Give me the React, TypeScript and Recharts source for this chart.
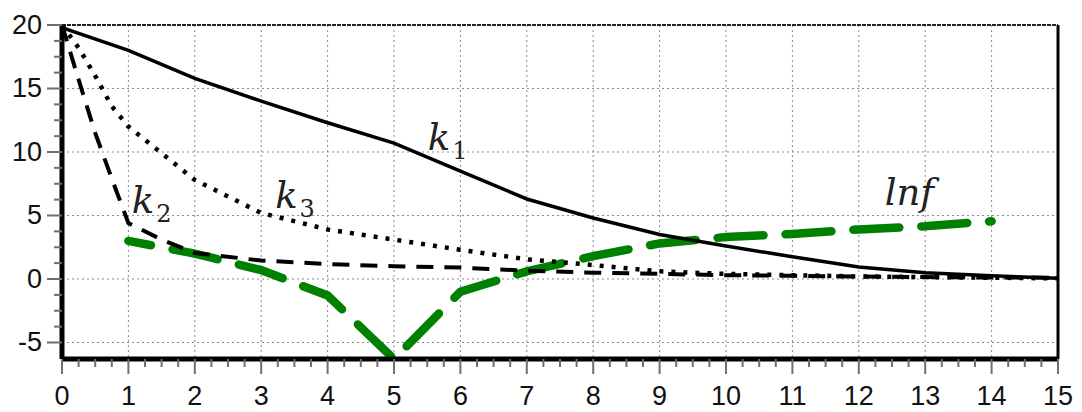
import React from 'react';
import { LineChart, Line, XAxis, YAxis, CartesianGrid, ReferenceLine, ReferenceDot } from 'recharts';

const xMajor = [0, 1, 2, 3, 4, 5, 6, 7, 8, 9, 10, 11, 12, 13, 14, 15];
const yMajor = [-5, 0, 5, 10, 15, 20];
const xMinorSteps = [0.25, 0.5, 0.75];
const yMinorSteps = [1.25, 2.5, 3.75];

const k1X = [0, 1, 2, 3, 4, 5, 6, 7, 8, 9, 10, 11, 12, 13, 14, 15];
const k1Y = [19.8, 18.0, 15.8, 14.0, 12.3, 10.7, 8.5, 6.3, 4.8, 3.5, 2.6, 1.75, 0.95, 0.5, 0.25, 0.05];

const k2X = [0, 0.25, 0.5, 0.75, 1, 1.5, 2, 3, 4, 5, 6, 7, 8, 9, 10, 11, 12, 13, 14, 15];
const k2Y = [20, 15.7, 11.5, 7.9, 4.4, 3.1, 2.05, 1.45, 1.18, 1.0, 0.9, 0.65, 0.5, 0.4, 0.3, 0.25, 0.2, 0.15, 0.12, 0.1];

const k3X = [0, 0.25, 0.5, 0.75, 1, 2, 3, 4, 5, 6, 7, 8, 9, 10, 11, 12, 13, 14, 15];
const k3Y = [20, 18.2, 16.0, 13.6, 12.0, 7.8, 5.2, 3.9, 3.1, 2.3, 1.55, 1.1, 0.6, 0.4, 0.3, 0.2, 0.15, 0.1, 0.05];

const lnfX = [1, 2, 3, 4, 5, 6, 7, 8, 9, 10, 11, 12, 13, 14];
const lnfY = [3.0, 2.0, 0.7, -1.3, -6.3, -1.0, 0.6, 1.8, 2.8, 3.3, 3.55, 3.9, 4.15, 4.55];

const labelNames = ['k', 'k', 'k', 'lnf'];
const labelSubs = ['1', '2', '3', ''];
const labelX = [5.51, 1.05, 3.21, 12.39];
const labelY = [10.16, 5.2, 5.6, 5.83];

const xTicks = xMajor.flatMap((v, i) => (i < xMajor.length - 1 ? [v, ...xMinorSteps.map((s) => v + s)] : [v]));
const yTicks = yMajor.flatMap((v, i) => (i < yMajor.length - 1 ? [v, ...yMinorSteps.map((s) => v + s)] : [v]));

const toData = (xs: number[], ys: number[]) => xs.map((x, i) => ({ x, y: ys[i] }));
const k1Data = toData(k1X, k1Y);
const k2Data = toData(k2X, k2Y);
const k3Data = toData(k3X, k3Y);
const lnfData = toData(lnfX, lnfY);

const tickFont = '"Liberation Sans", Arial, sans-serif';

const XTick = (props: any) => {
  const { x, y, payload } = props;
  const v = payload.value;
  const major = xMajor.includes(v);
  return (
    <g>
      <line x1={x} x2={x} y1={y} y2={y + (major ? 15 : 8)} stroke="#6f6f6f" strokeWidth={2} />
      {major && (
        <text x={x} y={y + 46} textAnchor="middle" fontFamily={tickFont} fontSize={27} fill="#111">
          {v}
        </text>
      )}
    </g>
  );
};

const YTick = (props: any) => {
  const { x, y, payload } = props;
  const v = payload.value;
  const major = yMajor.includes(v);
  return (
    <g>
      <line x1={x} x2={x - (major ? 15 : 8)} y1={y} y2={y} stroke="#6f6f6f" strokeWidth={2} />
      {major && (
        <text x={x - 20} y={y + 9} textAnchor="end" fontFamily={tickFont} fontSize={27} fill="#111">
          {v}
        </text>
      )}
    </g>
  );
};

const makeLabel = (main: string, sub: string) => (props: any) => {
  const vb = props.viewBox || {};
  return (
    <text x={vb.x} y={vb.y} fontFamily='"DejaVu Serif", serif' fontStyle="italic" fontSize={37} fill="#222">
      {main}
      {sub && (
        <tspan fontSize={24} fontStyle="normal" dx={2} dy={9}>
          {sub}
        </tspan>
      )}
    </text>
  );
};

export default function App() {
  return (
    <LineChart width={1074} height={404} margin={{ top: 17, right: 24, left: 0, bottom: 0 }}>
      <CartesianGrid
        stroke="#8a8a8a"
        strokeDasharray="2 3"
        verticalValues={xMajor}
        horizontalValues={yMajor}
      />
      <XAxis
        dataKey="x"
        type="number"
        domain={[0, 15]}
        ticks={xTicks}
        interval={0}
        tickLine={false}
        tickSize={0}
        tickMargin={0}
        height={53}
        axisLine={{ stroke: '#000', strokeWidth: 5 }}
        tick={<XTick />}
        allowDataOverflow
      />
      <YAxis
        type="number"
        domain={[-6.3, 20]}
        ticks={yTicks}
        interval={0}
        tickLine={false}
        tickSize={0}
        tickMargin={0}
        width={54}
        axisLine={{ stroke: '#000', strokeWidth: 5 }}
        tick={<YTick />}
        allowDataOverflow
      />
      <ReferenceLine y={20} stroke="#222" strokeWidth={2} strokeDasharray="4 1" />
      <ReferenceLine x={15} stroke="#000" strokeWidth={3} />
      <Line
        data={lnfData}
        dataKey="y"
        type="linear"
        stroke="#008000"
        strokeWidth={8.5}
        strokeDasharray="46 22"
        strokeDashoffset={23}
        strokeLinecap="round"
        dot={false}
        activeDot={false}
        isAnimationActive={false}
      />
      <Line
        data={k3Data}
        dataKey="y"
        type="linear"
        stroke="#000"
        strokeWidth={4.5}
        strokeDasharray="4 8"
        dot={false}
        activeDot={false}
        isAnimationActive={false}
      />
      <Line
        data={k2Data}
        dataKey="y"
        type="linear"
        stroke="#000"
        strokeWidth={4}
        strokeDasharray="17 11"
        dot={false}
        activeDot={false}
        isAnimationActive={false}
      />
      <Line
        data={k1Data}
        dataKey="y"
        type="linear"
        stroke="#000"
        strokeWidth={3.5}
        dot={false}
        activeDot={false}
        isAnimationActive={false}
      />
      {labelNames.map((name, i) => (
        <ReferenceDot
          key={i}
          x={labelX[i]}
          y={labelY[i]}
          r={0}
          fill="none"
          stroke="none"
          label={makeLabel(name, labelSubs[i])}
        />
      ))}
    </LineChart>
  );
}
